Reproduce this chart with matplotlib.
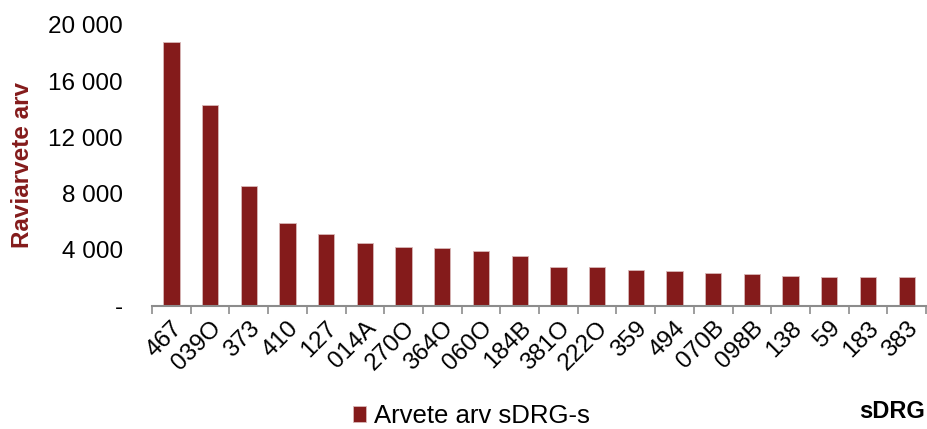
import matplotlib
matplotlib.use("Agg")
import matplotlib.pyplot as plt
import matplotlib.ticker as mticker
import numpy as np

plt.rcParams['font.family'] = ['Liberation Sans', 'DejaVu Sans']

# andmed
drg = ["467", "039O", "373", "410", "127", "014A", "270O", "364O", "060O", "184B",
       "381O", "222O", "359", "494", "070B", "098B", "138", "59", "183", "383"]
arv = [18800, 14280, 8520, 5920, 5110, 4450, 4180, 4130, 3930, 3520,
       2780, 2740, 2560, 2480, 2340, 2250, 2150, 2080, 2040, 2040]
yticks = [0, 4000, 8000, 12000, 16000, 20000]

punane = "#841b1b"

fig = plt.figure(figsize=(9.27, 4.29), dpi=100)
ax = fig.add_axes([0.164, 0.287, 0.835, 0.655])

x = np.arange(len(drg))
ax.bar(x, arv, width=0.42, color=punane, edgecolor="#d8b8b8", linewidth=0.6,
       label="Arvete arv sDRG-s")

ax.set_xlim(-0.5, len(drg) - 0.5)
ax.set_ylim(0, 20000)
ax.set_yticks(yticks)

def fmt(v, pos):
    if v == 0:
        return "-"
    return "{:,}".format(int(v)).replace(",", " ")

ax.yaxis.set_major_formatter(mticker.FuncFormatter(fmt))
ax.tick_params(axis="y", length=0, labelsize=17.5, pad=21)

ax.set_xticks(x)
ax.set_xticklabels(drg, rotation=45, ha="right", rotation_mode="anchor", fontsize=17.5)
ax.set_xticks(np.arange(-0.5, len(drg)), minor=True)
ax.tick_params(axis="x", which="major", length=0, pad=8)
ax.tick_params(axis="x", which="minor", length=6, color="#8c8c8c", width=1.2)

for s in ["top", "right", "left"]:
    ax.spines[s].set_visible(False)
ax.spines["bottom"].set_color("#8c8c8c")
ax.spines["bottom"].set_linewidth(1.5)

ax.set_ylabel("Raviarvete arv", color=punane, fontsize=17.5, fontweight="bold")
ax.yaxis.set_label_coords(-0.152, 0.5)

fig.legend(loc="center left", bbox_to_anchor=(0.381, 0.03), frameon=False,
           fontsize=18.5, handlelength=0.5, handleheight=0.6, handletextpad=0.3,
           borderpad=0, borderaxespad=0)
fig.text(0.998, 0.04, "sDRG", fontsize=17, fontweight="bold", ha="right", va="center")

fig.savefig("out.png", dpi=100)
